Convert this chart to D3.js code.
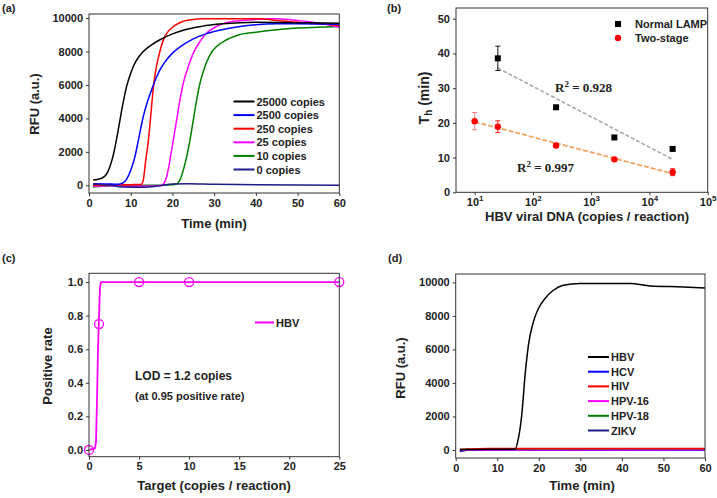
<!DOCTYPE html>
<html>
<head>
<meta charset="utf-8">
<script src="https://cdn.jsdelivr.net/npm/d3@7"></script>
<style>
  body { margin: 0; background: #fff; }
  svg text { font-family: "Liberation Sans", Arial, sans-serif; font-weight: bold; fill: #222; }
</style>
</head>
<body>
<svg id="fig" width="717" height="498"></svg>
<script>
// ---- (a) amplification curves, [time (min), RFU]
const ampLabels = ["25000 copies", "2500 copies", "250 copies", "25 copies", "10 copies", "0 copies"];
const ampColors = ["#000000", "#0000ff", "#ff0000", "#ff00ff", "#008000", "#1c1c8a"];
const amp25000 = [[1,320],[2,350],[3,420],[4,600],[5,1100],[6,2000],[7,3300],[8,4700],[9,5900],[10,6700],[11,7300],[12,7700],[13,8000],[15,8400],[17,8700],[20,9050],[23,9300],[27,9500],[32,9650],[40,9750],[50,9720],[60,9680]];
const amp2500 = [[1,100],[4,80],[7,60],[8,120],[9,350],[10,900],[11,1700],[12,2900],[13,4100],[14,5000],[15,5700],[16,6350],[17,6900],[18,7300],[20,7900],[22,8300],[25,8750],[28,9050],[31,9250],[35,9450],[40,9600],[45,9650],[50,9650],[60,9620]];
const amp250 = [[1,0],[5,30],[10,40],[12.5,50],[13,300],[13.6,1500],[14.1,2400],[14.6,3600],[15.1,5000],[15.6,6200],[16.1,7000],[16.6,7600],[17.1,8100],[18,8800],[19,9200],[20,9450],[22,9750],[24,9880],[28,9950],[35,9960],[41,9950],[45,9850],[50,9750],[55,9650],[60,9550]];
const amp25 = [[1,-50],[5,-30],[10,-50],[15,-40],[17.5,0],[18,150],[18.6,500],[19.4,1500],[20.2,2700],[21,3900],[21.8,5100],[22.6,6100],[23.8,7100],[25,7900],[26.6,8600],[28.2,9100],[30.6,9500],[34.6,9800],[39.4,9900],[44,9950],[50,9850],[55,9700],[60,9450]];
const amp10 = [[1,-100],[5,-30],[10,0],[15,0],[20,30],[21,80],[21.8,320],[22.6,900],[23.4,1700],[24.2,2700],[25,3900],[25.8,5100],[26.6,6100],[27.8,7100],[29,7800],[30.6,8300],[33,8700],[36,9000],[40,9150],[45,9300],[50,9400],[55,9450],[60,9500]];
const amp0 = [[1,80],[5,0],[8,-100],[13,-120],[17,-20],[20,80],[24,100],[30,60],[40,40],[60,0]];
const ampTicksX = [0, 10, 20, 30, 40, 50, 60];
const ampTicksY = [0, 2000, 4000, 6000, 8000, 10000];

// ---- (b) threshold time vs copies
const lampCopies = [25, 250, 2500, 25000];
const lampTh = [38.6, 24.5, 15.8, 12.5];
const lampErr = [3.5, 0.5, 0.5, 0.5];
const twoCopies = [10, 25, 250, 2500, 25000];
const twoTh = [20.5, 18.9, 13.5, 9.5, 5.8];
const twoErr = [2.5, 1.7, 0.5, 0.5, 1.0];
const lampFit = [[25, 35.8], [25000, 9.5]];
const twoFit = [[10, 20.3], [25000, 5.4]];
const thTicksX = [10, 100, 1000, 10000, 100000];
const thTicksY = [0, 10, 20, 30, 40, 50];

// ---- (c) positive rate
const posTargets = [0, 1, 5, 10, 25];
const posRates = [0, 0.75, 1, 1, 1];
const posFit = [[0,0],[0.6,0.01],[0.7,0.05],[0.8,0.3],[0.9,0.6],[1.0,0.8],[1.1,0.97],[1.2,1.0],[25,1.0]];
const posTicksX = [0, 5, 10, 15, 20, 25];
const posTicksY = [0, 0.2, 0.4, 0.6, 0.8, 1.0];

// ---- (d) specificity curves
const specLabels = ["HBV", "HCV", "HIV", "HPV-16", "HPV-18", "ZIKV"];
const specColors = ["#000000", "#0000ff", "#ff0000", "#ff00ff", "#008000", "#1c1c8a"];
const specHBV = [[1,20],[5,30],[10,40],[14.3,50],[15.1,700],[15.9,2100],[16.7,4470],[17.5,6260],[18.7,7650],[19.9,8440],[21.5,9040],[23.5,9530],[25.9,9830],[29.9,9930],[42,9930],[46.8,9790],[54.8,9730],[60,9670]];
const specHCV = [[1,-60],[3,0],[60,0]];
const specHIV = [[1,20],[8,80],[60,80]];
const specHPV16 = [[1,0],[60,10]];
const specHPV18 = [[1,30],[15,60],[60,70]];
const specZIKV = [[1,-100],[4,-10],[60,-10]];

const svg = d3.select("#fig");

function frame(x, y) {
  const [x0, x1] = x.range(), [y0, y1] = y.range();
  svg.append("rect").attr("x", x0).attr("y", y1).attr("width", x1 - x0).attr("height", y0 - y1)
    .attr("fill", "none").attr("stroke", "#333").attr("stroke-width", 1);
}

function axes(x, y, xt, yt, xfmt, yfmt) {
  const gx = svg.append("g").attr("transform", `translate(0,${y.range()[0]})`)
    .call(d3.axisBottom(x).tickValues(xt).tickSize(3).tickPadding(3).tickFormat(xfmt));
  const gy = svg.append("g").attr("transform", `translate(${x.range()[0]},0)`)
    .call(d3.axisLeft(y).tickValues(yt).tickSize(3).tickPadding(3).tickFormat(yfmt));
  [gx, gy].forEach(g => {
    g.attr("font-family", null).attr("font-size", 11);
    g.select(".domain").remove();
    g.selectAll(".tick line").attr("stroke", "#333");
  });
  return gx;
}

function titles(xt, xx, xy, yt, yx, yy) {
  svg.append("text").attr("x", xx).attr("y", xy).attr("text-anchor", "middle").attr("font-size", 13).text(xt);
  svg.append("text").attr("transform", `translate(${yx},${yy}) rotate(-90)`).attr("text-anchor", "middle")
    .attr("font-size", 13).text(yt);
}

function panelLabel(s, x, y) {
  svg.append("text").attr("x", x).attr("y", y).attr("font-size", 11).text(s);
}

function legend(labels, colors, x, y0, step, len) {
  labels.forEach((l, i) => {
    const y = y0 + i * step;
    svg.append("line").attr("x1", x).attr("x2", x + len).attr("y1", y).attr("y2", y)
      .attr("stroke", colors[i]).attr("stroke-width", 2);
    svg.append("text").attr("x", x + len + 2).attr("y", y + 4).attr("font-size", 11).text(l);
  });
}

// ================= (a)
{
  const x = d3.scaleLinear().domain([0, 60]).range([89, 339.3]);
  const y = d3.scaleLinear().domain([-460, 10240]).range([193, 14]);
  const line = d3.line().x(d => x(d[0])).y(d => y(d[1])).curve(d3.curveMonotoneX);
  const series = [amp25000, amp2500, amp250, amp25, amp10, amp0];
  [4, 3, 2, 1, 0, 5].forEach(i => {
    svg.append("path").attr("d", line(series[i])).attr("fill", "none")
      .attr("stroke", ampColors[i]).attr("stroke-width", 1.5);
  });
  frame(x, y);
  axes(x, y, ampTicksX, ampTicksY, d3.format("d"), d3.format("d"));
  titles("Time (min)", 214, 228, "RFU (a.u.)", 39, 104);
  legend(ampLabels, ampColors, 233.5, 101.5, 13.6, 21);
  panelLabel("(a)", 2, 12);
}

// ================= (b)
{
  const x = d3.scaleLog().domain([Math.pow(10, 0.68), 1e5]).range([456, 707.7]);
  const y = d3.scaleLinear().domain([0, 53.1]).range([192.3, 8]);
  frame(x, y);
  const gx = axes(x, y, thTicksX, thTicksY, d => "", d3.format("d"));
  gx.selectAll(".tick text").each(function (d) {
    const t = d3.select(this);
    t.append("tspan").text("10");
    t.append("tspan").attr("dy", -5).attr("font-size", 8).text(Math.round(Math.log10(d)));
  });
  const line = d3.line().x(d => x(d[0])).y(d => y(d[1]));
  svg.append("path").attr("d", line(lampFit)).attr("stroke", "#aaaaaa").attr("stroke-width", 1.6)
    .attr("stroke-dasharray", "4,2").attr("fill", "none");
  svg.append("path").attr("d", line(twoFit)).attr("stroke", "#f4a460").attr("stroke-width", 1.8)
    .attr("stroke-dasharray", "5,2").attr("fill", "none");
  // error bars
  lampCopies.forEach((c, i) => {
    const cx = x(c);
    svg.append("line").attr("x1", cx).attr("x2", cx).attr("y1", y(lampTh[i] - lampErr[i])).attr("y2", y(lampTh[i] + lampErr[i])).attr("stroke", "#111");
    [-1, 1].forEach(s => svg.append("line").attr("x1", cx - 2.5).attr("x2", cx + 2.5)
      .attr("y1", y(lampTh[i] + s * lampErr[i])).attr("y2", y(lampTh[i] + s * lampErr[i])).attr("stroke", "#111"));
  });
  twoCopies.forEach((c, i) => {
    const cx = x(c), col = i === 0 ? "#f08080" : "#ff2020";
    svg.append("line").attr("x1", cx).attr("x2", cx).attr("y1", y(twoTh[i] - twoErr[i])).attr("y2", y(twoTh[i] + twoErr[i])).attr("stroke", col);
    [-1, 1].forEach(s => svg.append("line").attr("x1", cx - 2.5).attr("x2", cx + 2.5)
      .attr("y1", y(twoTh[i] + s * twoErr[i])).attr("y2", y(twoTh[i] + s * twoErr[i])).attr("stroke", col));
  });
  svg.selectAll(null).data(lampCopies).join("rect")
    .attr("x", (d, i) => x(d) - 3).attr("y", (d, i) => y(lampTh[i]) - 3)
    .attr("width", 6).attr("height", 6).attr("fill", "#000");
  svg.selectAll(null).data(twoCopies).join("circle")
    .attr("cx", d => x(d)).attr("cy", (d, i) => y(twoTh[i])).attr("r", 3.2).attr("fill", "#ff0000");
  // legend
  svg.append("rect").attr("x", 615).attr("y", 21).attr("width", 6).attr("height", 6).attr("fill", "#000");
  svg.append("text").attr("x", 635).attr("y", 28).attr("font-size", 11).text("Normal LAMP");
  svg.append("circle").attr("cx", 618).attr("cy", 38).attr("r", 3.2).attr("fill", "#ff0000");
  svg.append("text").attr("x", 635).attr("y", 42).attr("font-size", 11).text("Two-stage");
  // R^2
  [["0.928", 555, 92], ["0.997", 517, 172]].forEach(([v, tx, ty]) => {
    const t = svg.append("text").attr("x", tx).attr("y", ty).attr("font-size", 13)
      .style("font-family", "'Liberation Serif', 'DejaVu Serif', serif").attr("fill", "#333");
    t.append("tspan").text("R");
    t.append("tspan").attr("dy", -5).attr("font-size", 9).text("2");
    t.append("tspan").attr("dy", 5).text(" = " + v);
  });
  svg.append("text").attr("x", 587).attr("y", 221).attr("text-anchor", "middle").attr("font-size", 13)
    .text("HBV viral DNA (copies / reaction)");
  const yt = svg.append("text").attr("transform", "translate(429,98) rotate(-90)").attr("text-anchor", "middle").attr("font-size", 14);
  yt.append("tspan").text("T");
  yt.append("tspan").attr("dy", 3).attr("font-size", 10).text("h");
  yt.append("tspan").attr("dy", -3).text(" (min)");
  panelLabel("(b)", 387, 12);
}

// ================= (c)
{
  const x = d3.scaleLinear().domain([0, 25]).range([89, 339.3]);
  const y = d3.scaleLinear().domain([-0.04, 1.052]).range([456.7, 273.3]);
  const line = d3.line().x(d => x(d[0])).y(d => y(d[1]));
  svg.append("path").attr("d", line(posFit)).attr("fill", "none").attr("stroke", "#ff00ff").attr("stroke-width", 1.8);
  svg.selectAll(null).data(posTargets).join("circle")
    .attr("cx", d => x(d)).attr("cy", (d, i) => y(posRates[i])).attr("r", 4.5)
    .attr("fill", "none").attr("stroke", "#ff00ff").attr("stroke-width", 1.3);
  frame(x, y);
  axes(x, y, posTicksX, posTicksY, d3.format("d"), d3.format(".1f"));
  titles("Target (copies / reaction)", 214, 490, "Positive rate", 52, 366);
  legend(["HBV"], ["#ff00ff"], 255, 322.5, 0, 19);
  svg.append("text").attr("x", 135).attr("y", 380).attr("font-size", 12).text("LOD = 1.2 copies");
  svg.append("text").attr("x", 135).attr("y", 400).attr("font-size", 11).text("(at 0.95 positive rate)");
  panelLabel("(c)", 2, 262);
}

// ================= (d)
{
  const x = d3.scaleLinear().domain([0, 60]).range([455.7, 705]);
  const y = d3.scaleLinear().domain([-480, 10500]).range([458, 274]);
  const line = d3.line().x(d => x(d[0])).y(d => y(d[1])).curve(d3.curveMonotoneX);
  const series = [specHBV, specHCV, specHIV, specHPV16, specHPV18, specZIKV];
  [5, 1, 3, 4, 2, 0].forEach(i => {
    svg.append("path").attr("d", line(series[i])).attr("fill", "none")
      .attr("stroke", specColors[i]).attr("stroke-width", 1.5);
  });
  frame(x, y);
  axes(x, y, ampTicksX, ampTicksY, d3.format("d"), d3.format("d"));
  titles("Time (min)", 582, 490, "RFU (a.u.)", 405, 368);
  legend(specLabels, specColors, 588, 357, 14.7, 21);
  panelLabel("(d)", 388, 262);
}
</script>
</body>
</html>
